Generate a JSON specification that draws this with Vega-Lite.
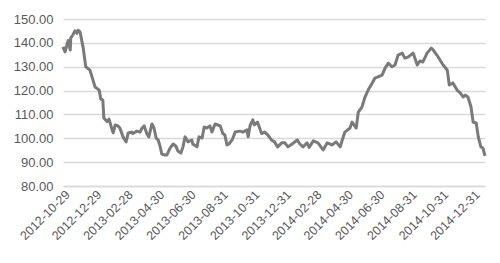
{
  "$schema": "https://vega.github.io/schema/vega-lite/v6.json",
  "width": 422,
  "height": 167,
  "autosize": {"type": "none"},
  "padding": {"left": 63, "top": 19, "right": 15, "bottom": 77},
  "background": "white",
  "config": {"view": {"stroke": null}, "font": "Liberation Sans"},
  "data": {"values": [
    {"date": "2012-10-29", "value": 138.3},
    {"date": "2012-11-02", "value": 136.2},
    {"date": "2012-11-08", "value": 141},
    {"date": "2012-11-12", "value": 137},
    {"date": "2012-11-13", "value": 142},
    {"date": "2012-11-17", "value": 143.3},
    {"date": "2012-11-21", "value": 145},
    {"date": "2012-11-25", "value": 144},
    {"date": "2012-11-27", "value": 145.3},
    {"date": "2012-12-01", "value": 144.6},
    {"date": "2012-12-07", "value": 138},
    {"date": "2012-12-12", "value": 130},
    {"date": "2012-12-20", "value": 128.6},
    {"date": "2012-12-26", "value": 124.4},
    {"date": "2012-12-30", "value": 121.5},
    {"date": "2013-01-07", "value": 120.2},
    {"date": "2013-01-10", "value": 116.5},
    {"date": "2013-01-14", "value": 116},
    {"date": "2013-01-16", "value": 108.5},
    {"date": "2013-01-22", "value": 107},
    {"date": "2013-01-26", "value": 108},
    {"date": "2013-02-01", "value": 103.5},
    {"date": "2013-02-03", "value": 102.3},
    {"date": "2013-02-07", "value": 105.6},
    {"date": "2013-02-12", "value": 105.2},
    {"date": "2013-02-16", "value": 104.3},
    {"date": "2013-02-22", "value": 100.6},
    {"date": "2013-02-28", "value": 98.5},
    {"date": "2013-03-04", "value": 102.2},
    {"date": "2013-03-11", "value": 102.6},
    {"date": "2013-03-13", "value": 102},
    {"date": "2013-03-21", "value": 103},
    {"date": "2013-03-27", "value": 102.6},
    {"date": "2013-03-31", "value": 104.3},
    {"date": "2013-04-04", "value": 105.2},
    {"date": "2013-04-09", "value": 102},
    {"date": "2013-04-13", "value": 100.6},
    {"date": "2013-04-19", "value": 106},
    {"date": "2013-04-23", "value": 104.3},
    {"date": "2013-04-27", "value": 100.1},
    {"date": "2013-05-01", "value": 99.3},
    {"date": "2013-05-05", "value": 96.4},
    {"date": "2013-05-08", "value": 93.4},
    {"date": "2013-05-14", "value": 93},
    {"date": "2013-05-18", "value": 93},
    {"date": "2013-05-24", "value": 95.9},
    {"date": "2013-05-30", "value": 97.6},
    {"date": "2013-06-04", "value": 96.8},
    {"date": "2013-06-08", "value": 94.7},
    {"date": "2013-06-14", "value": 93.8},
    {"date": "2013-06-18", "value": 96.4},
    {"date": "2013-06-22", "value": 100.6},
    {"date": "2013-06-28", "value": 98.5},
    {"date": "2013-07-05", "value": 99.3},
    {"date": "2013-07-07", "value": 97.6},
    {"date": "2013-07-15", "value": 96.4},
    {"date": "2013-07-19", "value": 100.6},
    {"date": "2013-07-25", "value": 100.1},
    {"date": "2013-07-29", "value": 104.7},
    {"date": "2013-08-03", "value": 104.3},
    {"date": "2013-08-09", "value": 105.2},
    {"date": "2013-08-13", "value": 102.6},
    {"date": "2013-08-19", "value": 106},
    {"date": "2013-08-29", "value": 105.2},
    {"date": "2013-09-03", "value": 102},
    {"date": "2013-09-07", "value": 101.4},
    {"date": "2013-09-11", "value": 97.2},
    {"date": "2013-09-15", "value": 97.6},
    {"date": "2013-09-21", "value": 99.3},
    {"date": "2013-09-27", "value": 102.6},
    {"date": "2013-10-06", "value": 103},
    {"date": "2013-10-12", "value": 102.6},
    {"date": "2013-10-20", "value": 103.5},
    {"date": "2013-10-22", "value": 100.6},
    {"date": "2013-10-26", "value": 105.5},
    {"date": "2013-10-31", "value": 107.7},
    {"date": "2013-11-03", "value": 105.6},
    {"date": "2013-11-09", "value": 106.8},
    {"date": "2013-11-17", "value": 102},
    {"date": "2013-11-23", "value": 102.6},
    {"date": "2013-11-29", "value": 101.4},
    {"date": "2013-12-06", "value": 99.3},
    {"date": "2013-12-12", "value": 98.5},
    {"date": "2013-12-18", "value": 96.4},
    {"date": "2013-12-26", "value": 98.1},
    {"date": "2014-01-01", "value": 98.1},
    {"date": "2014-01-07", "value": 96.4},
    {"date": "2014-01-15", "value": 97.6},
    {"date": "2014-01-25", "value": 99.3},
    {"date": "2014-01-30", "value": 97.6},
    {"date": "2014-02-05", "value": 96.4},
    {"date": "2014-02-13", "value": 98.1},
    {"date": "2014-02-17", "value": 96.2},
    {"date": "2014-02-25", "value": 98.9},
    {"date": "2014-03-06", "value": 98.1},
    {"date": "2014-03-16", "value": 95.1},
    {"date": "2014-03-24", "value": 98.1},
    {"date": "2014-04-02", "value": 97.2},
    {"date": "2014-04-10", "value": 98.5},
    {"date": "2014-04-18", "value": 96.4},
    {"date": "2014-04-22", "value": 99.3},
    {"date": "2014-04-27", "value": 102.6},
    {"date": "2014-05-07", "value": 104.3},
    {"date": "2014-05-11", "value": 106.8},
    {"date": "2014-05-19", "value": 104.3},
    {"date": "2014-05-23", "value": 111},
    {"date": "2014-05-30", "value": 113.1},
    {"date": "2014-06-05", "value": 117.3},
    {"date": "2014-06-11", "value": 120.2},
    {"date": "2014-06-19", "value": 123.2},
    {"date": "2014-06-24", "value": 125.2},
    {"date": "2014-06-30", "value": 125.7},
    {"date": "2014-07-08", "value": 126.5},
    {"date": "2014-07-14", "value": 129.5},
    {"date": "2014-07-20", "value": 131.5},
    {"date": "2014-07-27", "value": 130},
    {"date": "2014-08-02", "value": 130.7},
    {"date": "2014-08-08", "value": 134.9},
    {"date": "2014-08-16", "value": 135.7},
    {"date": "2014-08-21", "value": 133.6},
    {"date": "2014-08-27", "value": 134},
    {"date": "2014-09-06", "value": 135.7},
    {"date": "2014-09-14", "value": 130.7},
    {"date": "2014-09-19", "value": 132.4},
    {"date": "2014-09-25", "value": 132},
    {"date": "2014-10-03", "value": 135.7},
    {"date": "2014-10-11", "value": 137.8},
    {"date": "2014-10-15", "value": 137},
    {"date": "2014-10-22", "value": 134.9},
    {"date": "2014-10-28", "value": 132.8},
    {"date": "2014-11-03", "value": 130.7},
    {"date": "2014-11-11", "value": 128.6},
    {"date": "2014-11-15", "value": 122.3},
    {"date": "2014-11-22", "value": 123.2},
    {"date": "2014-11-30", "value": 120.2},
    {"date": "2014-12-06", "value": 119},
    {"date": "2014-12-12", "value": 117.3},
    {"date": "2014-12-16", "value": 118.1},
    {"date": "2014-12-21", "value": 117.3},
    {"date": "2014-12-27", "value": 113.1},
    {"date": "2014-12-31", "value": 106.8},
    {"date": "2015-01-06", "value": 106.4},
    {"date": "2015-01-10", "value": 100.6},
    {"date": "2015-01-15", "value": 96.4},
    {"date": "2015-01-19", "value": 95.9},
    {"date": "2015-01-23", "value": 92.6}
  ]},
  "mark": {"type": "line", "color": "#7a7a7a", "strokeWidth": 3, "strokeJoin": "round"},
  "encoding": {
    "x": {
      "field": "date",
      "type": "temporal",
      "scale": {
        "type": "utc",
        "domain": [
          {"year": 2012, "month": 10, "date": 29, "utc": true},
          {"year": 2015, "month": 1, "date": 23, "utc": true}
        ]
      },
      "axis": {
        "title": null,
        "grid": false,
        "ticks": false,
        "domainColor": "#d9d9d9",
        "domainWidth": 1.5,
        "labelExpr": "utcFormat(datum.value, '%Y-%m-%d')",
        "labelAngle": -45,
        "labelAlign": "right",
        "labelBaseline": "top",
        "labelPadding": 2,
        "labelFontSize": 12.5,
        "labelColor": "#595959",
        "labelOverlap": false,
        "labelFlush": false,
        "values": [
          {"year": 2012, "month": 10, "date": 29, "utc": true},
          {"year": 2012, "month": 12, "date": 29, "utc": true},
          {"year": 2013, "month": 2, "date": 28, "utc": true},
          {"year": 2013, "month": 4, "date": 30, "utc": true},
          {"year": 2013, "month": 6, "date": 30, "utc": true},
          {"year": 2013, "month": 8, "date": 31, "utc": true},
          {"year": 2013, "month": 10, "date": 31, "utc": true},
          {"year": 2013, "month": 12, "date": 31, "utc": true},
          {"year": 2014, "month": 2, "date": 28, "utc": true},
          {"year": 2014, "month": 4, "date": 30, "utc": true},
          {"year": 2014, "month": 6, "date": 30, "utc": true},
          {"year": 2014, "month": 8, "date": 31, "utc": true},
          {"year": 2014, "month": 10, "date": 31, "utc": true},
          {"year": 2014, "month": 12, "date": 31, "utc": true}
        ]
      }
    },
    "y": {
      "field": "value",
      "type": "quantitative",
      "scale": {"domain": [80, 150], "nice": false, "zero": false},
      "axis": {
        "title": null,
        "values": [80, 90, 100, 110, 120, 130, 140, 150],
        "format": ".2f",
        "domain": false,
        "ticks": false,
        "gridColor": "#d9d9d9",
        "gridWidth": 1.5,
        "labelPadding": 10,
        "labelFontSize": 13,
        "labelColor": "#595959"
      }
    }
  }
}
